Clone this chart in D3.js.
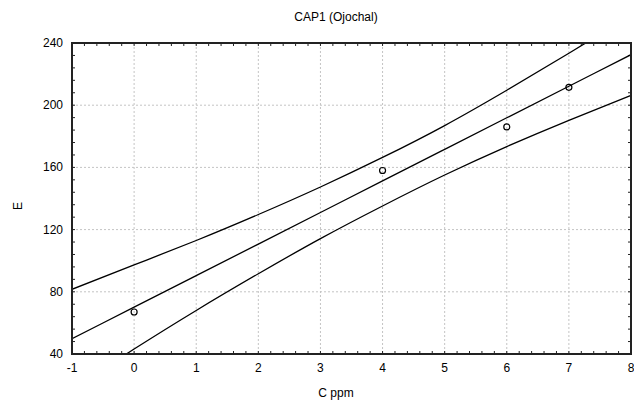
<!DOCTYPE html>
<html>
<head>
<meta charset="utf-8">
<script src="https://cdn.jsdelivr.net/npm/d3@7"></script>
<style>
  body { margin: 0; background: #fff; }
  text { font-family: "Liberation Sans", Arial, sans-serif; fill: #000; }
</style>
</head>
<body>
<div id="chart"></div>
<script>
// measured points
const ptX = [0, 4, 6, 7];
const ptY = [67, 158, 186, 211.5];

// fitted line and confidence band at each integer x
const fitX   = [-1, 0, 1, 2, 3, 4, 5, 6, 7, 8];
const fitMid = [49.8, 70.1, 90.4, 110.7, 131, 151.3, 171.6, 191.9, 212.2, 232.5];
const fitUp  = [81.6, 97.3, 113.0, 129.7, 147.4, 166.4, 186.9, 209.6, 233.4, 257.8];
const fitLo  = [17.5, 43.2, 68.0, 91.6, 114.2, 135.2, 155.1, 173.4, 190.3, 206.3];

const xTicks = [-1, 0, 1, 2, 3, 4, 5, 6, 7, 8];
const yTicks = [40, 80, 120, 160, 200, 240];

const width = 634, height = 400;
const margin = {top: 43, right: 3, bottom: 46, left: 72};

const svg = d3.select("#chart").append("svg")
    .attr("width", width)
    .attr("height", height);

const x = d3.scaleLinear().domain([-1, 8]).range([margin.left, width - margin.right]);
const y = d3.scaleLinear().domain([40, 240]).range([height - margin.bottom, margin.top]);

const x0 = x.range()[0], x1 = x.range()[1];
const y0 = y.range()[0], y1 = y.range()[1];

svg.append("defs").append("clipPath").attr("id", "clip")
  .append("rect")
    .attr("x", x0).attr("y", y1)
    .attr("width", x1 - x0).attr("height", y0 - y1);

// grid
const grid = svg.append("g").attr("stroke", "#c4c4c4").attr("stroke-dasharray", "2,2");
grid.selectAll(".vg").data(xTicks.slice(1, -1)).enter().append("line")
    .attr("x1", d => x(d)).attr("x2", d => x(d))
    .attr("y1", y1).attr("y2", y0);
grid.selectAll(".hg").data(yTicks.slice(1, -1)).enter().append("line")
    .attr("x1", x0).attr("x2", x1)
    .attr("y1", d => y(d)).attr("y2", d => y(d));

// inward minor ticks on all four sides
const xMinor = d3.range(-1, 8.001, 0.2);
const yMinor = d3.range(40, 240.001, 8);
const tl = 3;
const ticks = svg.append("g").attr("stroke", "#222").attr("stroke-width", 1);
ticks.selectAll(".tb").data(xMinor).enter().append("line")
    .attr("x1", d => x(d)).attr("x2", d => x(d)).attr("y1", y0).attr("y2", y0 - tl);
ticks.selectAll(".tt").data(xMinor).enter().append("line")
    .attr("x1", d => x(d)).attr("x2", d => x(d)).attr("y1", y1).attr("y2", y1 + tl);
ticks.selectAll(".tlft").data(yMinor).enter().append("line")
    .attr("y1", d => y(d)).attr("y2", d => y(d)).attr("x1", x0).attr("x2", x0 + tl);
ticks.selectAll(".trgt").data(yMinor).enter().append("line")
    .attr("y1", d => y(d)).attr("y2", d => y(d)).attr("x1", x1).attr("x2", x1 - tl);

// fit lines
const line = d3.line().curve(d3.curveNatural);
const plot = svg.append("g").attr("clip-path", "url(#clip)");
[fitUp, fitMid, fitLo].forEach(vals => {
  plot.append("path")
      .attr("d", line(fitX.map((d, i) => [x(d), y(vals[i])])))
      .attr("fill", "none")
      .attr("stroke", "#000")
      .attr("stroke-width", 1.3);
});

// points
plot.selectAll(".pt").data(ptX).enter().append("circle")
    .attr("cx", d => x(d))
    .attr("cy", (d, i) => y(ptY[i]))
    .attr("r", 3)
    .attr("fill", "none")
    .attr("stroke", "#000")
    .attr("stroke-width", 1.2);

// frame
svg.append("rect")
    .attr("x", x0).attr("y", y1)
    .attr("width", x1 - x0).attr("height", y0 - y1)
    .attr("fill", "none")
    .attr("stroke", "#222")
    .attr("stroke-width", 2);

// tick labels
svg.selectAll(".xl").data(xTicks).enter().append("text")
    .attr("x", d => x(d))
    .attr("y", y0 + 18)
    .attr("text-anchor", "middle")
    .style("font-size", "12px")
    .text(d => d);
svg.selectAll(".yl").data(yTicks).enter().append("text")
    .attr("x", x0 - 9)
    .attr("y", d => y(d) + 4)
    .attr("text-anchor", "end")
    .style("font-size", "12px")
    .text(d => d);

// titles
svg.append("text")
    .attr("x", 336).attr("y", 21)
    .attr("text-anchor", "middle")
    .style("font-size", "12px")
    .text("CAP1 (Ojochal)");
svg.append("text")
    .attr("x", 336).attr("y", 397)
    .attr("text-anchor", "middle")
    .style("font-size", "12px")
    .text("C ppm");
svg.append("text")
    .attr("transform", "translate(22,206) rotate(-90)")
    .attr("text-anchor", "middle")
    .style("font-size", "12px")
    .text("E");
</script>
</body>
</html>
